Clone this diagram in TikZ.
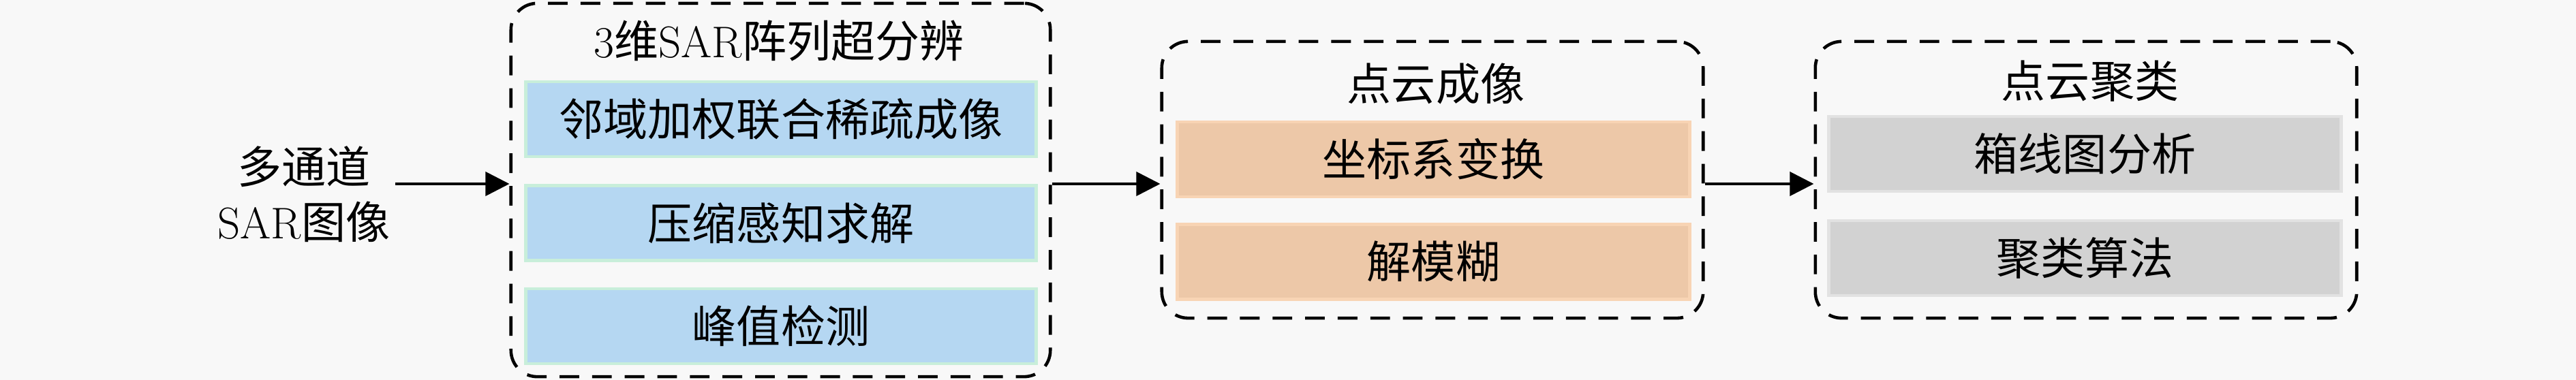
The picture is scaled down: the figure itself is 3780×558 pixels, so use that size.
\documentclass[tikz,border=0pt]{standalone}
\usepackage{fontspec}
\newfontfamily\cjk{Noto Sans CJK SC}
\usetikzlibrary{arrows.meta}
\definecolor{bg}{HTML}{F8F8F8}
\definecolor{bluefill}{HTML}{B5D7F2}
\definecolor{blueedge}{HTML}{C8EEDA}
\definecolor{orfill}{HTML}{EDC8A8}
\definecolor{oredge}{HTML}{F8D4B4}
\definecolor{grfill}{HTML}{D2D2D2}
\definecolor{gredge}{HTML}{E2E2E2}
\newcommand\zh[1]{{\cjk #1}}
\begin{document}
\begin{tikzpicture}[x=0.01cm,y=-0.01cm,
  txt/.style={font=\fontsize{18.5}{23}\selectfont, text=black, inner sep=2pt},
  grp/.style={draw=black, line width=1.3pt, dash pattern=on 8.2pt off 5.4pt, rounded corners=11pt},
  sub/.style={txt, line width=1.4pt, minimum height=1.1cm},
  bluebox/.style={sub, fill=bluefill, draw=blueedge, minimum width=7.48cm},
  orbox/.style={sub, fill=orfill, draw=oredge, minimum width=7.51cm},
  grbox/.style={sub, fill=grfill, draw=gredge, minimum width=7.51cm},
  arr/.style={draw=black, line width=1.1pt, -{Triangle[length=10pt,width=10pt]}}]
\useasboundingbox (0,0) rectangle (3780,558);
\fill[bg] (0,0) rectangle (3780,558);
\coordinate (mid) at (0,270);
% input
\node[txt, align=center] (in) at (446,285) {\zh{多通道}\\SAR\zh{图像}};
% group boxes
\node[grp, minimum width=7.91cm, minimum height=5.48cm] (b1) at (1145.5,279) {};
\node[grp, minimum width=7.94cm, minimum height=4.06cm] (b2) at (2102,264) {};
\node[grp, minimum width=7.94cm, minimum height=4.06cm] (b3) at (3061,264) {};
% titles
\node[txt] (t1) at (1143,60) {3\zh{维}SAR\zh{阵列超分辨}};
\node[txt] (t2) at (2107,123) {\zh{点云成像}};
\node[txt] (t3) at (3067,119) {\zh{点云聚类}};
% sub boxes
\node[bluebox] (s11) at (1146,175) {\zh{邻域加权联合稀疏成像}};
\node[bluebox] (s12) at (1146,327.5) {\zh{压缩感知求解}};
\node[bluebox] (s13) at (1146,479) {\zh{峰值检测}};
\node[orbox] (s21) at (2103.5,234) {\zh{坐标系变换}};
\node[orbox] (s22) at (2103.5,384.5) {\zh{解模糊}};
\node[grbox] (s31) at (3059.5,226) {\zh{箱线图分析}};
\node[grbox] (s32) at (3059.5,379) {\zh{聚类算法}};
% arrows
\draw[arr] (in.east |- mid) -- (b1.west |- mid);
\draw[arr] (b1.east |- mid) -- (b2.west |- mid);
\draw[arr] (b2.east |- mid) -- (b3.west |- mid);
\end{tikzpicture}
\end{document}
